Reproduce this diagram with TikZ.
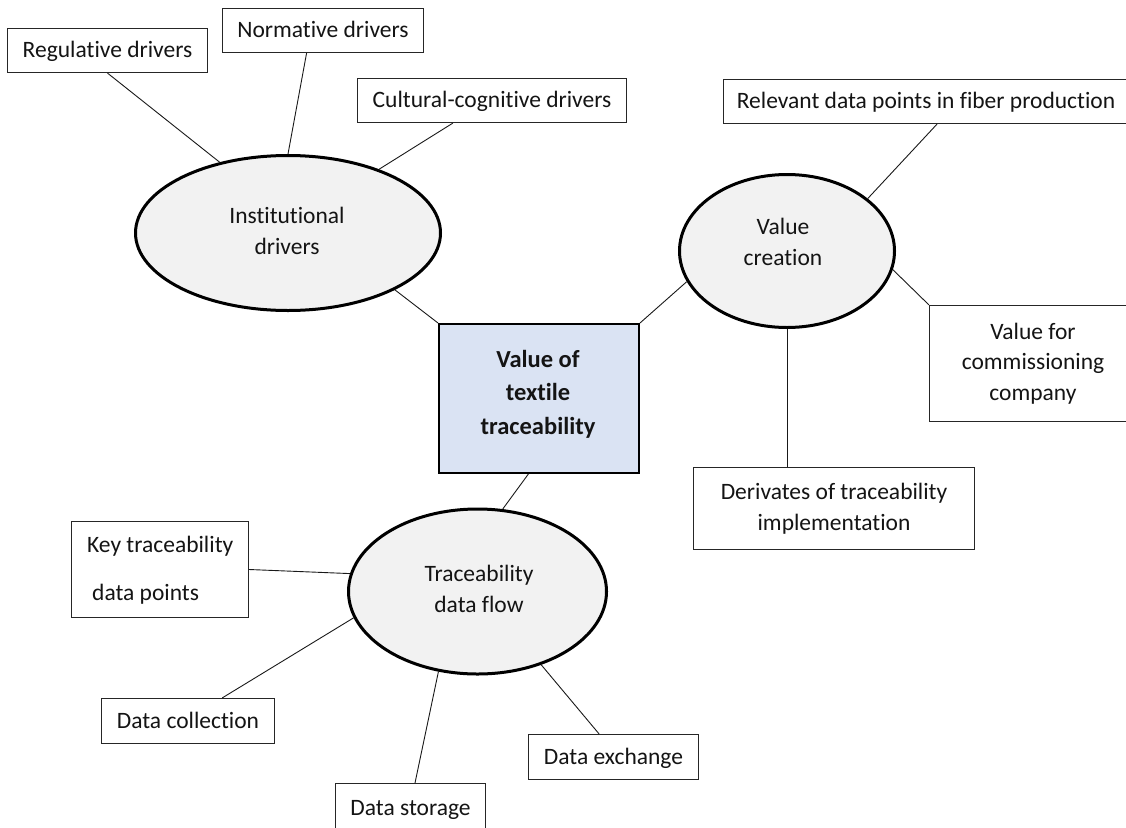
\documentclass[tikz,border=0pt]{standalone}
\usepackage{fontspec}
\setmainfont{Carlito}[Ligatures=NoCommon]
\usetikzlibrary{shapes.geometric}
\definecolor{bubblefill}{HTML}{F2F2F2}
\definecolor{corefill}{HTML}{DAE3F3}
\begin{document}
\begin{tikzpicture}[x=1pt,y=-1pt,
  every node/.style={font=\fontsize{23.5}{30.5}\selectfont, text=black!92},
  box/.style={draw=black!85, line width=1.2pt, fill=white, inner sep=0pt,
              text height=20pt, text depth=6pt},
  multibox/.style={draw=black!85, line width=1.2pt, fill=white, inner sep=0pt, align=center},
  bubble/.style={ellipse, draw=black, line width=3pt, fill=bubblefill, inner sep=0pt},
  core/.style={rectangle, draw=black, line width=2pt, fill=corefill, inner sep=0pt},
  tag/.style={inner sep=0pt, align=center},
  link/.style={draw=black!90, line width=0.9pt}]

\clip (0,0) rectangle (1126,827);

% central theme
\node[core, minimum width=200, minimum height=149] (core) at (539,398.5) {};
\node[tag, font=\fontsize{24.5}{33.5}\selectfont\bfseries] (coretext) at (538,394)
  {Value of\\textile\\traceability};

% three main themes
\node[bubble, minimum width=305, minimum height=155] (inst) at (288,233) {};
\node[tag] (insttext) at (287,231) {Institutional\\drivers};

\node[bubble, minimum width=215, minimum height=153] (vc) at (787,251) {};
\node[tag] (vctext) at (783,242) {Value\\creation};

\node[bubble, minimum width=258, minimum height=165] (tdf) at (477.5,591.5) {};
\node[tag] (tdftext) at (479,589) {Traceability\\data flow};

% institutional drivers
\node[box, minimum width=200, minimum height=44] (reg) at (107.5,50.5) {Regulative drivers};
\node[box, minimum width=201, minimum height=44] (norm) at (323,30.5) {Normative drivers};
\node[box, minimum width=269, minimum height=44] (cult) at (492,100.5) {Cultural-cognitive drivers};

% value creation
\node[box, minimum width=405, minimum height=44] (rel) at (926,101.5) {Relevant data points in fiber production};
\node[multibox, minimum width=207, minimum height=116] (vcc) at (1033,363.5) {Value for\\commissioning\\company};
\node[multibox, minimum width=281, minimum height=82] (deriv) at (834,508.5) {Derivates of traceability\\implementation};

% traceability data flow
\node[box, minimum width=177, minimum height=96] (key) at (160,569.5) {};
\node[tag, anchor=west, text height=20pt, text depth=6pt] (keytop) at (87,545) {Key traceability};
\node[tag, anchor=west, text height=20pt, text depth=6pt] (keybot) at (92,593) {data points};
\node[box, minimum width=173, minimum height=45] (dcol) at (188,721) {Data collection};
\node[box, minimum width=150, minimum height=50] (dsto) at (410.5,808.5) {Data storage};
\node[box, minimum width=170, minimum height=45] (dex) at (613.5,757) {Data exchange};

% connectors
\path[link] (reg.south) -- (inst.134.6);
\path[link] (norm.234.6) -- (inst.90);
\path[link] (cult.210) -- (inst.35.6);
\path[link] (inst.-28.2) -- (core.north west);
\path[link] (core.north east) -- (vc.197.3);
\path[link] (rel.-64) -- (vc.33.2);
\path[link] (vc.-10.7) -- (vcc.north west);
\path[link] (vc.south) -- (vc.south |- deriv.north);
\path[link] (core.262.5) -- (tdf.73.2);
\path[link] (key.east) -- (tdf.172.8);
\path[link] (dcol.34.1) -- (tdf.192.8);
\path[link] (dsto.80) -- (tdf.244.1);
\path[link] (dex.122.2) -- (tdf.-49.5);
\end{tikzpicture}
\end{document}
